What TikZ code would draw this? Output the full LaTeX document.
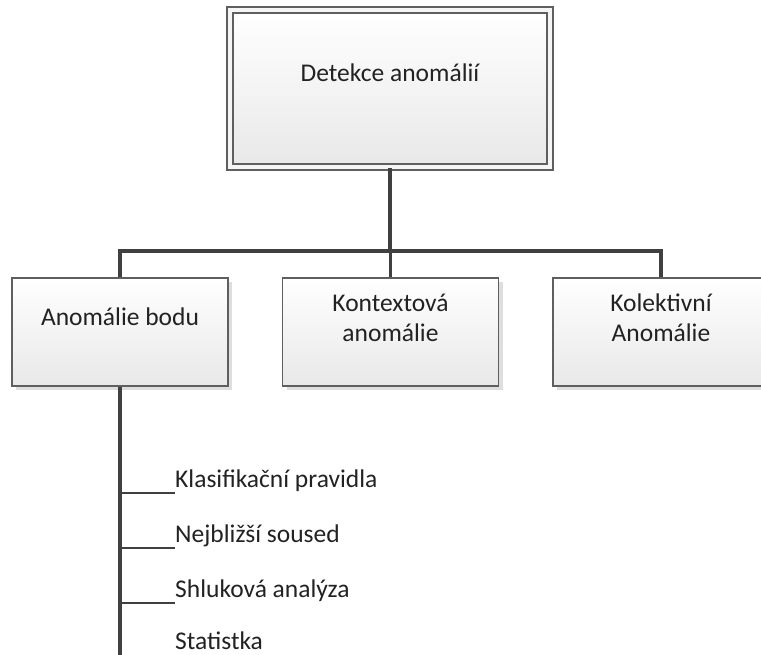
\documentclass[tikz,border=0pt]{standalone}
\usepackage{fontspec}
\setmainfont{Carlito}
\usepackage{xcolor}
\usetikzlibrary{shadows}
\usetikzlibrary{calc}
\definecolor{linegray}{HTML}{404040}
\definecolor{boxgray}{HTML}{5F5F5F}
\definecolor{textgray}{HTML}{222222}

\begin{document}
\begin{tikzpicture}[x=1pt,y=-1pt]
\tikzstyle{box}=[draw=boxgray,line width=1.3pt,rectangle,top color=white,bottom color=black!9,minimum width=216pt,minimum height=108pt,inner sep=0pt,drop shadow={shadow xshift=4pt,shadow yshift=-4pt,fill=black!13,opacity=1}]
\tikzstyle{rootbox}=[box,double=white!96!black,double distance=4.5pt,minimum width=320pt,minimum height=157pt]
\tikzstyle{boxtext}=[text=textgray,font=\fontsize{25.5}{30}\selectfont,align=center,inner sep=0pt]
\tikzstyle{leaf}=[text=textgray,font=\fontsize{25.5}{30}\selectfont,inner sep=0pt,anchor=base west]
\tikzstyle{conn}=[draw=linegray,line width=3.2pt]
\tikzstyle{twig}=[draw=linegray,line width=2.4pt]
\useasboundingbox (0,0) rectangle (761,655);
\clip (0,0) rectangle (761,655);
% boxes
\node[rootbox] (root) at (390,88.5) {};
\node[box] (point) at (120,332) {};
\node[box] (ctx) at (390.5,332) {};
\node[box] (coll) at (661,332) {};
% box texts
\node[boxtext] (root_txt) at (390,73) {Detekce anomálií};
\node[boxtext] (point_txt) at (120,317) {Anomálie bodu};
\node[boxtext] (ctx_txt) at (390.5,318) {Kontextová\\anomálie};
\node[boxtext] (coll_txt) at (661,318) {Kolektivní\\Anomálie};
% tree connectors
\coordinate (bus) at (390,251);
\path[conn] (root.south) -- (bus);
\path[conn] (point.north) |- (bus) -| (coll.north);
\path[conn] (ctx.north) -- (ctx.north |- bus);
% methods under Anomálie bodu
\coordinate (trunk_end) at (120,662);
\coordinate (t1) at (120,493);
\coordinate (t2) at (120,548);
\coordinate (t3) at (120,603);
\coordinate (t4) at (120,656.3);
\coordinate (e1) at (175,493);
\coordinate (e2) at (175,548);
\coordinate (e3) at (175,603);
\coordinate (e4) at (175,656.3);
\path[conn] (point.south) -- (trunk_end);
\path[twig] (t1) -- (e1);
\path[twig] (t2) -- (e2);
\path[twig] (t3) -- (e3);
\path[twig] (t4) -- (e4);
\node[leaf] (lab1) at ($(e1)+(0,-6)$) {Klasifikační pravidla};
\node[leaf] (lab2) at ($(e2)+(0,-6)$) {Nejbližší soused};
\node[leaf] (lab3) at ($(e3)+(0,-6)$) {Shluková analýza};
\node[leaf] (lab4) at ($(e4)+(0,-7.3)$) {Statistka};
\end{tikzpicture}
\end{document}
